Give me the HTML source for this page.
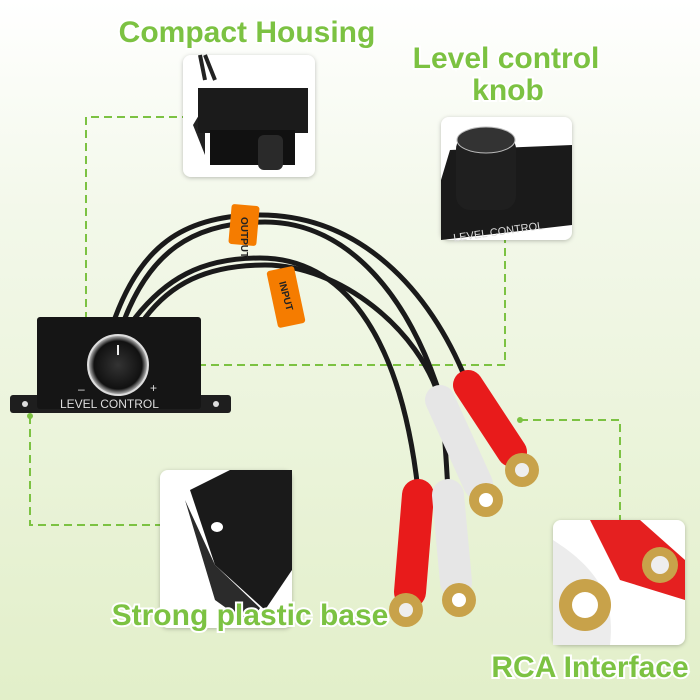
<!DOCTYPE html>
<html><head><meta charset="utf-8"><style>
html,body{margin:0;padding:0;width:700px;height:700px;overflow:hidden}
svg{display:block}
text{font-family:"Liberation Sans",sans-serif;font-weight:bold}
</style></head><body>
<svg width="700" height="700" viewBox="0 0 700 700">
<defs>
<linearGradient id="bg" x1="0" y1="0" x2="0" y2="1">
<stop offset="0" stop-color="#ffffff"/><stop offset="0.3" stop-color="#f3f8ea"/><stop offset="1" stop-color="#e2efc9"/></linearGradient>
<radialGradient id="kn" cx="0.5" cy="0.5" r="0.5"><stop offset="0" stop-color="#333"/><stop offset="0.8" stop-color="#111"/><stop offset="1" stop-color="#ccc"/></radialGradient>
<filter id="sh"><feDropShadow dx="0" dy="1" stdDeviation="2" flood-color="#000" flood-opacity="0.25"/></filter>
</defs>
<rect width="700" height="700" fill="url(#bg)"/>
<g stroke="#7cc242" stroke-width="2" stroke-dasharray="8,5" fill="none">
<path d="M86 320 V117 H183"/>
<path d="M146 365 H505 V240"/>
<path d="M30 416 V525 H160"/>
<path d="M520 420 H620 V522"/>
</g>
<g fill="#7cc242"><circle cx="86" cy="320" r="3"/><circle cx="146" cy="365" r="3"/><circle cx="30" cy="416" r="3"/><circle cx="520" cy="420" r="3"/></g>
<g stroke="#1a1a1a" stroke-width="5" fill="none" stroke-linecap="round">
<path d="M115 318 C140 250 180 215 260 215 C360 215 430 290 466 380"/>
<path d="M125 318 C150 255 190 222 265 222 C350 222 410 300 440 395"/>
<path d="M135 318 C165 280 200 258 260 258 C340 258 400 330 418 490"/>
<path d="M145 318 C170 285 205 265 265 265 C340 265 420 330 440 400 C445 430 446 460 448 490"/>
</g>
<g fill="#f57c00"><rect x="230" y="205" width="28" height="40" rx="3" transform="rotate(5 244 225)"/><rect x="272" y="268" width="28" height="58" rx="3" transform="rotate(-12 286 297)"/></g>
<text x="236" y="228" font-size="10" fill="#222" transform="rotate(90 244 225)">OUTPUT</text>
<text x="270" y="300" font-size="10" fill="#222" transform="rotate(75 286 297)">INPUT</text>
<g stroke-linecap="round">
<line x1="468" y1="385" x2="512" y2="452" stroke="#e81b1b" stroke-width="30"/>
<circle cx="522" cy="470" r="17" fill="#c8a24a"/><circle cx="522" cy="470" r="7" fill="#eee"/>
<line x1="440" y1="400" x2="478" y2="484" stroke="#e6e6e6" stroke-width="30"/>
<circle cx="486" cy="500" r="17" fill="#c8a24a"/><circle cx="486" cy="500" r="7" fill="#fff"/>
<line x1="418" y1="495" x2="410" y2="592" stroke="#e81b1b" stroke-width="32"/>
<circle cx="406" cy="610" r="17" fill="#c8a24a"/><circle cx="406" cy="610" r="7" fill="#eee"/>
<line x1="448" y1="495" x2="456" y2="582" stroke="#e6e6e6" stroke-width="32"/>
<circle cx="459" cy="600" r="17" fill="#c8a24a"/><circle cx="459" cy="600" r="7" fill="#fff"/>
</g>
<rect x="10" y="395" width="221" height="18" rx="3" fill="#1e1e1e"/>
<circle cx="25" cy="404" r="3" fill="#ddd"/><circle cx="216" cy="404" r="3" fill="#ddd"/>
<rect x="37" y="317" width="164" height="92" rx="3" fill="#151515"/>
<circle cx="118" cy="365" r="30" fill="url(#kn)" stroke="#ddd" stroke-width="2"/>
<line x1="118" y1="345" x2="118" y2="355" stroke="#eee" stroke-width="2"/>
<text x="60" y="408" font-size="12" fill="#ddd" style="font-weight:normal">LEVEL CONTROL</text>
<text x="78" y="393" font-size="12" fill="#ddd" style="font-weight:normal">–</text><text x="150" y="392" font-size="12" fill="#ddd" style="font-weight:normal">+</text>
<g filter="url(#sh)" fill="#fff">
<rect x="183" y="55" width="132" height="122" rx="8"/>
<rect x="441" y="117" width="131" height="123" rx="8"/>
<rect x="160" y="470" width="132" height="158" rx="8"/>
<rect x="553" y="520" width="132" height="125" rx="8"/>
</g>
<path d="M200 55 L205 80 M205 55 L215 80" stroke="#222" stroke-width="4"/>
<path d="M193 125 L205 105 L205 155 Z" fill="#222"/>
<rect x="198" y="88" width="110" height="45" fill="#1b1b1b"/>
<rect x="210" y="130" width="85" height="35" fill="#111"/>
<rect x="258" y="135" width="25" height="35" rx="6" fill="#2a2a2a"/>
<path d="M441 180 L450 150 L572 145 L572 225 L441 240 Z" fill="#1a1a1a"/>
<rect x="456" y="135" width="60" height="75" rx="14" fill="#1f1f1f"/>
<ellipse cx="486" cy="140" rx="29" ry="13" fill="#333" stroke="#bbb"/>
<text x="452" y="235" font-size="11" fill="#ddd" style="font-weight:normal" transform="rotate(-8 500 225)">LEVEL CONTROL</text>
<path d="M190 490 L230 470 L292 470 L292 570 L265 610 L215 565 Z" fill="#1a1a1a"/>
<path d="M185 500 L215 565 L260 608 L250 625 L215 600 Z" fill="#2b2b2b"/>
<ellipse cx="217" cy="527" rx="6" ry="5" fill="#fff"/>
<path d="M553 540 C600 570 615 600 610 645 L553 645 Z" fill="#ececec"/>
<path d="M590 520 L640 520 L685 560 L685 600 L620 580 Z" fill="#e52020"/>
<circle cx="660" cy="565" r="18" fill="#c8a24a"/><circle cx="660" cy="565" r="9" fill="#eee"/>
<circle cx="585" cy="605" r="26" fill="#c8a24a"/><circle cx="585" cy="605" r="13" fill="#fff"/>
<g font-size="30" fill="#7cc242" stroke="#fff" stroke-width="4" paint-order="stroke">
<text x="247" y="42" text-anchor="middle">Compact Housing</text>
<text x="506" y="68" text-anchor="middle">Level control</text>
<text x="508" y="100" text-anchor="middle">knob</text>
<text x="250" y="625" text-anchor="middle">Strong plastic base</text>
<text x="590" y="677" text-anchor="middle">RCA Interface</text>
</g>
</svg>
</body></html>
